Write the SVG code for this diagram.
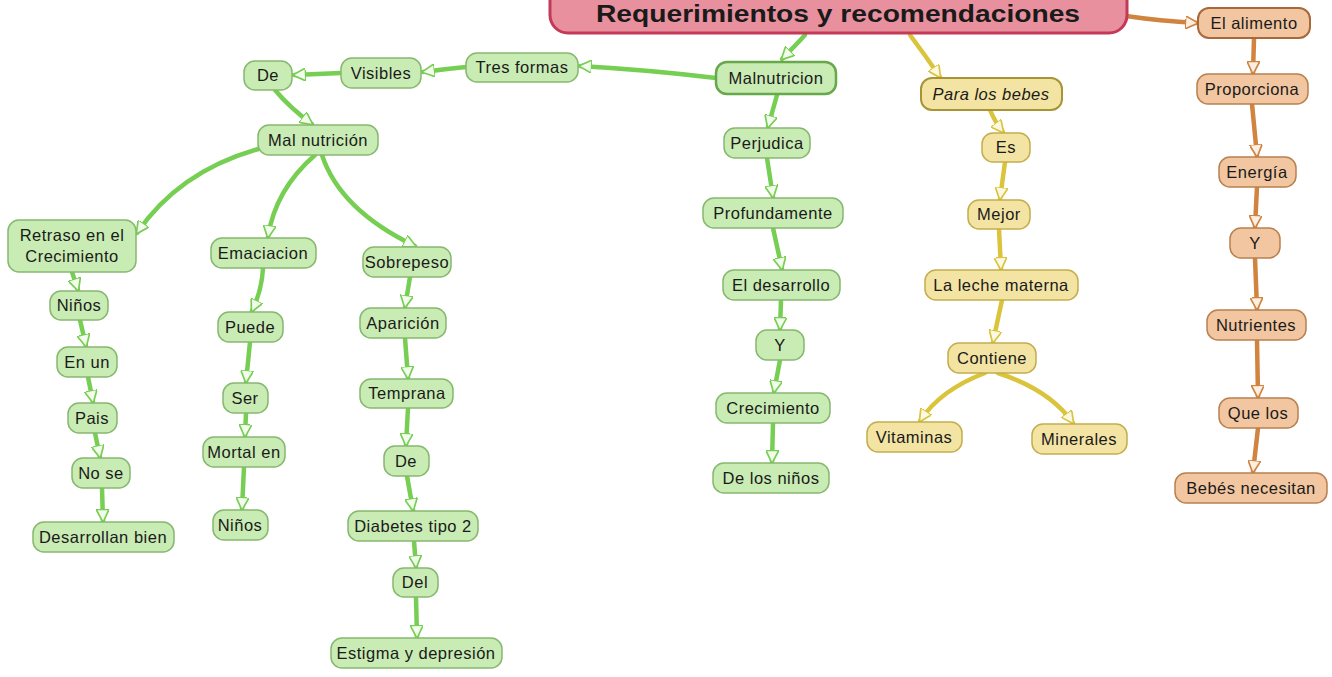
<svg xmlns="http://www.w3.org/2000/svg" width="1332" height="677" viewBox="0 0 1332 677">
<defs>
<style>
.g rect{fill:#c9ebb4;stroke:#86b86f;stroke-width:1.5}
.y rect{fill:#f3e4a4;stroke:#c4ad4c;stroke-width:1.5}
.o rect{fill:#f2c6a0;stroke:#b9814f;stroke-width:1.5}
text{font-family:"Liberation Sans",Arial,sans-serif;font-size:16.5px;letter-spacing:0.5px;fill:#1a1a1a;text-anchor:middle}
.cg{stroke:#76cf52;stroke-width:4.5;fill:none;stroke-linecap:round;marker-end:url(#ag)}
.cy{stroke:#d9c43c;stroke-width:4.5;fill:none;stroke-linecap:round;marker-end:url(#ay)}
.co{stroke:#d0843f;stroke-width:4.5;fill:none;stroke-linecap:round;marker-end:url(#ao)}
</style>
<marker id="ag" viewBox="0 0 10 10" refX="9" refY="5" markerWidth="13" markerHeight="13" markerUnits="userSpaceOnUse" orient="auto"><path d="M0,0 L10,5 L0,10 z" fill="#f2fbec" stroke="#76cf52" stroke-width="1.3"/></marker>
<marker id="ay" viewBox="0 0 10 10" refX="9" refY="5" markerWidth="13" markerHeight="13" markerUnits="userSpaceOnUse" orient="auto"><path d="M0,0 L10,5 L0,10 z" fill="#fcf8e4" stroke="#d9c43c" stroke-width="1.3"/></marker>
<marker id="ao" viewBox="0 0 10 10" refX="9" refY="5" markerWidth="13" markerHeight="13" markerUnits="userSpaceOnUse" orient="auto"><path d="M0,0 L10,5 L0,10 z" fill="#fbeee2" stroke="#d0843f" stroke-width="1.3"/></marker>
</defs>
<rect width="1332" height="677" fill="#ffffff"/>
<g id="connectors">
<path class="cg" d="M805,35 Q795,46 782,59"/>
<path class="cg" d="M716,78 Q650,70 580,66"/>
<path class="cg" d="M466,67 Q445,69 423,72"/>
<path class="cg" d="M341,73 L294,75"/>
<path class="cg" d="M275,90 Q290,108 312,124"/>
<path class="cg" d="M262,148 Q180,170 137,233"/>
<path class="cg" d="M315,155 Q275,190 268,237"/>
<path class="cg" d="M322,155 Q340,210 415,246"/>
<path class="cg" d="M72,272 L78,290"/>
<path class="cg" d="M80,320 L86,346"/>
<path class="cg" d="M88,377 L93,402"/>
<path class="cg" d="M95,433 L100,457"/>
<path class="cg" d="M102,488 L103,521"/>
<path class="cg" d="M263,268 Q262,290 252,311"/>
<path class="cg" d="M250,342 L246,382"/>
<path class="cg" d="M246,413 L245,436"/>
<path class="cg" d="M244,467 L242,509"/>
<path class="cg" d="M410,277 L405,307"/>
<path class="cg" d="M405,338 L408,378"/>
<path class="cg" d="M408,408 L406,445"/>
<path class="cg" d="M407,476 L413,510"/>
<path class="cg" d="M414,541 L416,567"/>
<path class="cg" d="M416,597 L417,637"/>
<path class="cg" d="M777,95 L768,127"/>
<path class="cg" d="M767,158 L773,197"/>
<path class="cg" d="M773,228 L782,269"/>
<path class="cg" d="M781,300 L780,329"/>
<path class="cg" d="M780,360 L774,392"/>
<path class="cg" d="M773,423 L772,462"/>
<path class="cy" d="M910,35 Q925,55 940,77"/>
<path class="cy" d="M990,110 Q995,122 1003,132"/>
<path class="cy" d="M1005,162 L1000,199"/>
<path class="cy" d="M999,229 L1001,269"/>
<path class="cy" d="M1002,300 L993,342"/>
<path class="cy" d="M985,373 Q940,390 920,421"/>
<path class="cy" d="M998,373 Q1050,390 1073,423"/>
<path class="co" d="M1126,16 Q1160,21 1197,23"/>
<path class="co" d="M1254,38 L1253,73"/>
<path class="co" d="M1252,104 L1257,156"/>
<path class="co" d="M1257,187 L1255,227"/>
<path class="co" d="M1255,258 L1257,309"/>
<path class="co" d="M1257,340 L1258,397"/>
<path class="co" d="M1258,428 L1253,472"/>
</g>
<g id="title">
<rect x="550" y="-20" width="577" height="53" rx="18" fill="#e8909e" stroke="#c23a57" stroke-width="3"/>
<text x="838" y="21.5" style="font-size:23px;font-weight:bold;letter-spacing:0" textLength="484" lengthAdjust="spacingAndGlyphs">Requerimientos y recomendaciones</text>
</g>
<g id="n-malnutricion" class="g"><rect x="716" y="62" width="120" height="32" rx="11" style="stroke:#66a84a;stroke-width:2.5"/><text x="776" y="84">Malnutricion</text></g>
<g id="n-tresformas" class="g"><rect x="466" y="53" width="112" height="29" rx="11"/><text x="522" y="73">Tres formas</text></g>
<g id="n-visibles" class="g"><rect x="341" y="58" width="80" height="30" rx="11"/><text x="381" y="79">Visibles</text></g>
<g id="n-de1" class="g"><rect x="244" y="61" width="48" height="29" rx="11"/><text x="268" y="81">De</text></g>
<g id="n-malnutricion2" class="g"><rect x="258" y="125" width="120" height="30" rx="11"/><text x="318" y="146">Mal nutrición</text></g>
<g id="n-retraso" class="g"><rect x="8" y="220" width="128" height="52" rx="11"/><text x="72" y="241">Retraso en el</text><text x="72" y="262">Crecimiento</text></g>
<g id="n-emaciacion" class="g"><rect x="211" y="238" width="105" height="30" rx="11"/><text x="263" y="259">Emaciacion</text></g>
<g id="n-sobrepeso" class="g"><rect x="363" y="247" width="88" height="30" rx="11"/><text x="407" y="268">Sobrepeso</text></g>
<g id="n-ninos1" class="g"><rect x="50" y="291" width="58" height="29" rx="11"/><text x="79" y="311">Niños</text></g>
<g id="n-enun" class="g"><rect x="57" y="347" width="60" height="30" rx="11"/><text x="87" y="368">En un</text></g>
<g id="n-pais" class="g"><rect x="68" y="403" width="49" height="30" rx="11"/><text x="92" y="424">Pais</text></g>
<g id="n-nose" class="g"><rect x="72" y="458" width="58" height="30" rx="11"/><text x="101" y="479">No se</text></g>
<g id="n-desarrollan" class="g"><rect x="33" y="522" width="141" height="30" rx="11"/><text x="103" y="543">Desarrollan bien</text></g>
<g id="n-puede" class="g"><rect x="218" y="312" width="65" height="30" rx="11"/><text x="250" y="333">Puede</text></g>
<g id="n-ser" class="g"><rect x="223" y="383" width="45" height="30" rx="11"/><text x="245" y="404">Ser</text></g>
<g id="n-mortal" class="g"><rect x="203" y="437" width="82" height="30" rx="11"/><text x="244" y="458">Mortal en</text></g>
<g id="n-ninos2" class="g"><rect x="213" y="510" width="55" height="30" rx="11"/><text x="240" y="531">Niños</text></g>
<g id="n-aparicion" class="g"><rect x="360" y="308" width="86" height="30" rx="11"/><text x="403" y="329">Aparición</text></g>
<g id="n-temprana" class="g"><rect x="360" y="379" width="93" height="29" rx="11"/><text x="407" y="399">Temprana</text></g>
<g id="n-de2" class="g"><rect x="384" y="446" width="45" height="30" rx="11"/><text x="406" y="467">De</text></g>
<g id="n-diabetes" class="g"><rect x="348" y="511" width="130" height="30" rx="11"/><text x="413" y="532">Diabetes tipo 2</text></g>
<g id="n-del" class="g"><rect x="393" y="568" width="45" height="29" rx="11"/><text x="415" y="588">Del</text></g>
<g id="n-estigma" class="g"><rect x="331" y="638" width="171" height="30" rx="11"/><text x="416" y="659">Estigma y depresión</text></g>
<g id="n-perjudica" class="g"><rect x="724" y="128" width="86" height="30" rx="11"/><text x="767" y="149">Perjudica</text></g>
<g id="n-profundamente" class="g"><rect x="703" y="198" width="140" height="30" rx="11"/><text x="773" y="219">Profundamente</text></g>
<g id="n-eldesarrollo" class="g"><rect x="723" y="270" width="117" height="30" rx="11"/><text x="781" y="291">El desarrollo</text></g>
<g id="n-y1" class="g"><rect x="756" y="330" width="48" height="30" rx="11"/><text x="780" y="351">Y</text></g>
<g id="n-crecimiento" class="g"><rect x="716" y="393" width="114" height="30" rx="11"/><text x="773" y="414">Crecimiento</text></g>
<g id="n-delosninos" class="g"><rect x="713" y="463" width="116" height="30" rx="11"/><text x="771" y="484">De los niños</text></g>
<g id="n-paralosbebes" class="y"><rect x="921" y="78" width="141" height="32" rx="11" style="stroke:#a89436;stroke-width:2"/><text x="991" y="100" style="font-style:italic">Para los bebes</text></g>
<g id="n-es" class="y"><rect x="982" y="133" width="48" height="29" rx="11"/><text x="1006" y="153">Es</text></g>
<g id="n-mejor" class="y"><rect x="968" y="200" width="62" height="29" rx="11"/><text x="999" y="220">Mejor</text></g>
<g id="n-laleche" class="y"><rect x="925" y="270" width="153" height="30" rx="11"/><text x="1001" y="291">La leche materna</text></g>
<g id="n-contiene" class="y"><rect x="948" y="343" width="88" height="30" rx="11"/><text x="992" y="364">Contiene</text></g>
<g id="n-vitaminas" class="y"><rect x="867" y="422" width="95" height="30" rx="11"/><text x="914" y="443">Vitaminas</text></g>
<g id="n-minerales" class="y"><rect x="1032" y="424" width="95" height="30" rx="11"/><text x="1079" y="445">Minerales</text></g>
<g id="n-elalimento" class="o"><rect x="1198" y="8" width="112" height="30" rx="11" style="stroke:#a8683a;stroke-width:2"/><text x="1254" y="29">El alimento</text></g>
<g id="n-proporciona" class="o"><rect x="1197" y="74" width="111" height="30" rx="11"/><text x="1252" y="95">Proporciona</text></g>
<g id="n-energia" class="o"><rect x="1219" y="157" width="77" height="30" rx="11"/><text x="1257" y="178">Energía</text></g>
<g id="n-y2" class="o"><rect x="1230" y="228" width="50" height="30" rx="11"/><text x="1255" y="249">Y</text></g>
<g id="n-nutrientes" class="o"><rect x="1207" y="310" width="99" height="30" rx="11"/><text x="1256" y="331">Nutrientes</text></g>
<g id="n-quelos" class="o"><rect x="1219" y="398" width="79" height="30" rx="11"/><text x="1258" y="419">Que los</text></g>
<g id="n-bebes" class="o"><rect x="1175" y="473" width="152" height="30" rx="11"/><text x="1251" y="494">Bebés necesitan</text></g>
</svg>
